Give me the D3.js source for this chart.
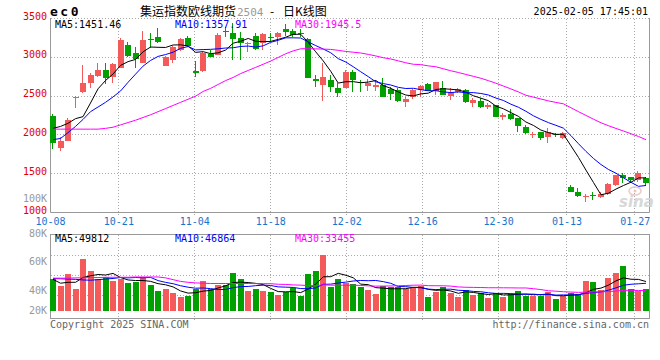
<!DOCTYPE html>
<html>
<head>
<meta charset="utf-8">
<script src="https://cdn.jsdelivr.net/npm/d3@7"></script>
<style>
  html, body { margin: 0; padding: 0; background: #fff; }
  svg { display: block; }
  text { font-family: "DejaVu Sans Mono", monospace; font-size: 10px; }
</style>
</head>
<body>
<svg id="chart" width="660" height="360"></svg>
<script>
// daily K data, 2024-10-08 .. 2025-02-05 (80 sessions)
const OPEN = [2245,1837,1927,2483,2557,2665,2759,2837,2750,2858,
  3158,3059,2931,3230,3257,2888,2965,3094,3245,2828,
  2828,3042,3030,3335,3309,3245,3171,3274,3188,3265,
  3265,3360,3338,3315,3232,2720,2643,2708,2601,2601,
  2815,2680,2631,2614,2643,2588,2579,2429,2493,2579,
  2656,2570,2601,2502,2557,2579,2416,2441,2364,2382,
  2236,2270,2215,2107,2005,2035,1978,2012,1958,1335,
  1270,1208,1222,1206,1241,1357,1480,1456,1421,1443];
const HIGH = [2270,1970,2219,2498,2901,2794,2930,2930,2930,3245,
  3201,3129,3342,3309,3373,3017,3145,3245,3274,2956,
  3072,3094,3309,3394,3438,3330,3200,3309,3309,3317,
  3330,3425,3360,3360,3245,2772,2923,2772,2665,2837,
  2837,2708,2721,2708,2730,2614,2601,2485,2588,2643,
  2665,2686,2699,2601,2609,2588,2472,2472,2408,2382,
  2279,2331,2215,2128,2035,2035,2094,2030,2042,1357,
  1318,1240,1270,1270,1378,1485,1515,1463,1540,1456];
const LOW = [1816,1794,1923,2344,2544,2600,2743,2652,2673,2858,
  3008,2858,2931,3116,3188,2888,2930,3085,3137,2743,
  2815,3000,3030,3257,2965,2965,3072,3094,3094,3201,
  3158,3274,3265,3265,2730,2622,2440,2557,2493,2601,
  2557,2557,2570,2570,2485,2450,2429,2364,2463,2485,
  2566,2515,2515,2450,2537,2408,2364,2344,2331,2228,
  2193,2193,2042,2009,1965,1936,1893,1980,1945,1270,
  1202,1142,1163,1185,1228,1348,1378,1378,1399,1344];
const CLOSE = [1893,1927,2193,2493,2673,2772,2837,2730,2914,3223,
  3017,2974,3223,3223,3201,3008,3137,3232,3145,2794,
  3051,3008,3287,3325,3232,3180,3188,3103,3300,3250,
  3309,3330,3287,3305,2730,2700,2743,2622,2544,2815,
  2708,2673,2665,2643,2493,2528,2441,2467,2579,2631,
  2570,2678,2515,2544,2588,2429,2450,2357,2386,2236,
  2257,2202,2120,2022,2012,1958,2042,2005,2030,1270,
  1215,1218,1212,1241,1370,1480,1445,1425,1515,1380];

const MA5 = [2085,2110,2150,2210,2236,2412,2594,2701,2785,2895,
  2944,2972,3070,3132,3128,3126,3158,3160,3145,3063,
  3072,3046,3057,3093,3181,3206,3242,3206,3201,3204,
  3230,3258,3295,3296,3192,3070,2953,2820,2668,2685,
  2686,2672,2681,2701,2636,2600,2554,2514,2502,2529,
  2538,2585,2595,2588,2579,2551,2505,2474,2442,2372,
  2337,2288,2240,2167,2123,2063,2031,2008,2009,1861,
  1712,1548,1389,1231,1251,1304,1350,1392,1447,1449];
const MA10 = [1940,1955,2030,2110,2200,2300,2360,2420,2490,2566,
  2678,2783,2886,2959,3011,3035,3065,3115,3138,3095,
  3099,3102,3109,3119,3122,3139,3144,3131,3147,3192,
  3218,3250,3250,3248,3198,3150,3106,3058,2982,2939,
  2878,2813,2751,2684,2661,2643,2613,2598,2601,2583,
  2569,2570,2555,2545,2554,2544,2545,2534,2515,2475,
  2444,2396,2357,2305,2247,2200,2159,2124,2088,1992,
  1888,1789,1698,1620,1556,1508,1449,1391,1339,1350];
const MA30 = [2075,2075,2075,2075,2075,2075,2075,2085,2100,2130,
  2160,2190,2225,2260,2300,2340,2380,2420,2460,2500,
  2560,2600,2650,2700,2740,2790,2830,2870,2910,2951,
  2998,3045,3082,3109,3111,3108,3105,3101,3089,3075,
  3065,3055,3037,3017,2994,2978,2954,2929,2910,2905,
  2889,2878,2852,2826,2804,2779,2755,2730,2699,2666,
  2630,2593,2554,2511,2487,2463,2439,2419,2401,2350,
  2300,2252,2203,2157,2119,2084,2051,2016,1981,1939];

// volume in thousand lots
const VOLUME = [53.5,42.2,62.5,37.2,87.8,67.6,53.5,57.9,50.7,53.5,
  46.8,48.5,57.9,43.9,33.8,37.2,30.9,23.7,25.3,37.2,
  50.7,37.2,43.9,43.9,64.7,54.1,33.8,37.2,33.8,32.1,
  27.0,32.1,38.9,25.3,62.5,67.6,94.6,40.0,53.5,46.8,
  45.6,41.0,35.5,28.7,42.2,40.0,41.0,36.7,40.0,42.2,
  23.1,32.6,40.0,30.9,23.1,35.5,27.0,30.9,22.5,30.9,
  24.2,28.7,33.8,25.8,25.3,25.3,32.6,20.3,25.3,29.9,
  28.7,50.7,48.5,35.5,55.2,64.7,76.0,37.2,33.8,37.2];
const VMA5 = [53.5,47.0,48.5,48.5,56.6,59.5,61.7,60.8,63.5,56.6,
  52.5,51.5,51.5,50.1,46.2,44.3,40.7,33.9,30.2,30.9,
  33.6,34.8,38.9,42.6,48.1,48.8,48.1,46.7,44.7,38.2,
  32.8,32.4,32.8,31.1,37.2,45.3,57.8,58.0,63.6,60.5,
  56.1,45.4,44.5,39.5,38.6,37.5,37.5,37.7,40.0,40.0,
  36.6,34.9,35.6,33.8,29.9,32.4,31.3,29.5,27.8,29.4,
  27.1,27.4,28.0,28.7,27.6,27.8,28.6,25.9,25.8,26.7,
  27.4,31.0,36.6,38.7,43.7,50.9,56.0,53.7,53.4,49.8];
const VMA10 = [55.0,54.5,54.0,53.5,52.5,52.0,53.0,54.0,55.0,56.6,
  56.0,56.6,56.1,56.8,51.4,48.4,46.1,42.7,40.2,38.5,
  38.9,37.8,36.4,36.4,39.5,41.2,41.5,42.8,43.7,43.1,
  40.8,40.3,39.8,37.9,37.7,39.0,45.1,45.4,47.4,48.8,
  50.7,51.6,51.2,51.6,49.6,46.8,41.4,41.1,39.8,39.3,
  37.0,36.2,36.7,36.9,35.0,34.5,33.1,32.5,30.8,29.7,
  29.8,29.4,28.8,28.2,28.5,27.4,28.0,26.9,27.2,27.1,
  27.6,29.8,31.2,32.2,35.2,39.1,43.5,45.2,46.0,46.8];
const VMA30 = [55.5,55.5,55.5,56.0,56.0,56.5,56.5,57.0,57.0,57.0,
  57.0,57.5,57.5,57.5,57.5,56.0,53.0,50.0,48.5,47.5,
  47.0,46.5,46.5,46.5,46.5,46.5,46.5,46.3,46.2,46.1,
  45.2,44.9,44.1,43.7,42.9,42.9,44.2,43.6,43.7,43.5,
  43.5,43.2,42.5,42.0,42.2,42.3,42.7,43.1,43.6,43.8,
  42.8,42.7,42.6,42.1,40.7,40.1,39.9,39.7,39.3,39.3,
  39.2,39.1,38.9,38.9,37.7,36.2,34.2,33.5,32.6,32.0,
  31.5,31.8,32.2,32.4,32.9,33.7,34.9,34.9,34.7,34.5];

const PRICE_TICKS = [1000, 1500, 2000, 2500, 3000, 3500];
const VOLUME_TICKS = [20, 40, 60, 80, 100];
const DATE_TICKS = [0, 9, 19, 29, 39, 49, 59, 68, 77];
const DATE_LABELS = ['10-08','10-21','11-04','11-18','12-02','12-16','12-30','01-13','01-27'];
const PRICE_LEGEND = ['MA5:1451.46', 'MA10:1357.91', 'MA30:1945.5'];
const VOLUME_LEGEND = ['MA5:49812', 'MA10:46864', 'MA30:33455'];

const UP = '#f45a5a', DOWN = '#00a000';
const MA_COLORS = ['#000000', '#0000ff', '#ff00ff'];
const GRID = '#aaa', BORDER = '#999';

class KLineChart {
    constructor(selector) {
        this.$svg = d3.select(selector);
        this._setScales();
    }

    _setScales() {
        this.x = d3.scaleBand().domain(d3.range(CLOSE.length)).range([50, 649]).paddingInner(0.2);
        this.dateX = d3.scaleLinear().domain([0, CLOSE.length - 1]).range([50, 650]);
        this.y = d3.scaleLinear().domain([1000, 3500]).range([212.7, 18.4]);
        this.vy = d3.scaleLinear().domain([0, 120]).range([311, 240]);
        // sina puts the volume labels unevenly
        this.vLabel = d3.scaleLinear().domain(VOLUME_TICKS).range([310.7, 290.7, 261.7, 233.7, 198.3]);
    }

    render() {
        this._renderHeader();
        this._renderGrid();
        this._renderCandles();
        this._renderVolume();
        this._renderLines();
        this._renderAxes();
        this._renderLegends();
        this._renderFooter();
    }

    _renderHeader() {
        const svg = this.$svg;
        svg.append('text').attr('x', 50).attr('y', 16)
            .style('font-size', '13px').style('font-weight', 'bold').style('letter-spacing', '2.5px')
            .text('ec0');

        const title = svg.append('text').attr('y', 15.5)
            .style('font-family', '"Noto Sans CJK SC", sans-serif').style('font-size', '12px');
        title.append('tspan').attr('x', 140).text('集运指数欧线期货');
        title.append('tspan').attr('x', 237).attr('fill', '#999')
            .style('font-family', '"DejaVu Sans Mono", monospace').style('font-size', '11px').text('2504');
        title.append('tspan').attr('x', 270).text('-');
        title.append('tspan').attr('x', 283).text('日K线图');

        svg.append('text').attr('x', 648).attr('y', 15).attr('text-anchor', 'end')
            .text('2025-02-05 17:45:01');
    }

    _renderGrid() {
        const g = this.$svg.append('g').attr('class', 'grid')
            .attr('stroke', GRID).attr('stroke-dasharray', '1,2').attr('fill', 'none');
        const px = v => Math.floor(v) + 0.5;

        g.selectAll('.hgrid')
            .data(PRICE_TICKS.slice(1))
            .enter().append('line')
            .attr('x1', 51).attr('x2', 649)
            .attr('y1', d => px(this.y(d))).attr('y2', d => px(this.y(d)));

        g.selectAll('.vgrid')
            .data(DATE_TICKS.slice(1))
            .enter().append('line')
            .attr('x1', d => px(this.dateX(d))).attr('x2', d => px(this.dateX(d)))
            .attr('y1', 19).attr('y2', 217);

        g.selectAll('.vgrid2')
            .data(DATE_TICKS.slice(1))
            .enter().append('line')
            .attr('x1', d => px(this.dateX(d))).attr('x2', d => px(this.dateX(d)))
            .attr('y1', 235).attr('y2', 321);

        g.selectAll('.vhgrid')
            .data([255.5, 275.5, 295.5])
            .enter().append('line')
            .attr('x1', 51).attr('x2', 649)
            .attr('y1', d => d).attr('y2', d => d);

        const b = this.$svg.append('g').attr('stroke', BORDER).attr('fill', 'none');
        b.append('path').attr('d', 'M50.5,18V212.5H649.5V18');
        b.append('rect').attr('x', 50.5).attr('y', 234.5).attr('width', 599).attr('height', 84);
    }

    _renderCandles() {
        const w = 6;
        const g = this.$svg.append('g').attr('class', 'candles');
        const candle = g.selectAll('g')
            .data(CLOSE.map((c, i) => ({i, o: OPEN[i], h: HIGH[i], l: LOW[i], c})))
            .enter().append('g')
            .attr('fill', d => d.c >= d.o ? UP : DOWN)
            .attr('stroke', d => d.c >= d.o ? UP : DOWN);

        candle.append('line')
            .attr('x1', d => Math.round(this.x(d.i)) + 2.5)
            .attr('x2', d => Math.round(this.x(d.i)) + 2.5)
            .attr('y1', d => Math.round(this.y(d.h)))
            .attr('y2', d => Math.round(this.y(d.l)));

        candle.append('rect')
            .attr('stroke', 'none')
            .attr('x', d => Math.round(this.x(d.i)))
            .attr('y', d => Math.round(this.y(Math.max(d.o, d.c))))
            .attr('width', w)
            .attr('height', d => Math.max(1, Math.round(this.y(Math.min(d.o, d.c))) - Math.round(this.y(Math.max(d.o, d.c)))));
    }

    _renderVolume() {
        this.$svg.append('g').attr('class', 'volume')
            .selectAll('rect')
            .data(VOLUME)
            .enter().append('rect')
            .attr('x', (d, i) => Math.round(this.x(i)))
            .attr('y', d => Math.round(this.vy(d)))
            .attr('width', 6)
            .attr('height', d => Math.round(this.vy(0)) - Math.round(this.vy(d)))
            .attr('fill', (d, i) => CLOSE[i] >= OPEN[i] ? UP : DOWN);
    }

    _renderLines() {
        const cx = i => this.x(i) + 3;
        const priceLine = d3.line().x((d, i) => cx(i)).y(d => this.y(d));
        const volLine = d3.line().x((d, i) => cx(i)).y(d => this.vy(d));

        [MA5, MA10, MA30].forEach((data, k) => {
            this.$svg.append('path')
                .attr('d', priceLine(data))
                .attr('fill', 'none').attr('stroke', MA_COLORS[k]).attr('stroke-width', 1);
        });
        [VMA5, VMA10, VMA30].forEach((data, k) => {
            this.$svg.append('path')
                .attr('d', volLine(data))
                .attr('fill', 'none').attr('stroke', MA_COLORS[k]).attr('stroke-width', 1);
        });
    }

    _renderAxes() {
        const yAxis = d3.axisLeft(this.y).tickValues(PRICE_TICKS).tickSize(0).tickPadding(0)
            .tickFormat(d3.format('d'));
        this.$svg.append('g')
            .attr('transform', 'translate(47,-2.5)')
            .call(yAxis)
            .call(g => g.select('.domain').remove())
            .selectAll('text')
            .attr('fill', '#e00000')
            .style('font-family', '"DejaVu Sans Mono", monospace').style('font-size', '10px');

        const vAxis = d3.axisLeft(this.vLabel).tickValues(VOLUME_TICKS).tickSize(0).tickPadding(0)
            .tickFormat(d => d + 'K');
        this.$svg.append('g')
            .attr('transform', 'translate(47,0)')
            .call(vAxis)
            .call(g => g.select('.domain').remove())
            .selectAll('text')
            .attr('fill', '#999')
            .style('font-family', '"DejaVu Sans Mono", monospace').style('font-size', '10px');

        const xAxis = d3.axisBottom(this.dateX).tickValues(DATE_TICKS).tickSize(0).tickPadding(2)
            .tickFormat((d, i) => DATE_LABELS[i]);
        this.$svg.append('g')
            .attr('transform', 'translate(0,216)')
            .call(xAxis)
            .call(g => g.select('.domain').remove())
            .selectAll('text')
            .attr('fill', '#1874cd')
            .style('font-family', '"DejaVu Sans Mono", monospace').style('font-size', '10px');
    }

    _renderLegends() {
        const xs = [55, 175, 295];
        const g = this.$svg.append('g').attr('class', 'legend');
        g.selectAll('.pl').data(PRICE_LEGEND).enter().append('text')
            .attr('x', (d, i) => xs[i]).attr('y', 27.5)
            .attr('fill', (d, i) => MA_COLORS[i]).text(d => d);
        g.selectAll('.vl').data(VOLUME_LEGEND).enter().append('text')
            .attr('x', (d, i) => xs[i]).attr('y', 242)
            .attr('fill', (d, i) => MA_COLORS[i]).text(d => d);
    }

    _renderFooter() {
        const svg = this.$svg;
        svg.append('text').attr('x', 50).attr('y', 328).attr('fill', '#666')
            .text('Copyright 2025 SINA.COM');
        svg.append('text').attr('x', 649).attr('y', 328).attr('fill', '#666').attr('text-anchor', 'end')
            .text('http://finance.sina.com.cn');

        // faint sina watermark
        const wm = svg.append('g').attr('opacity', 0.9);
        wm.append('ellipse').attr('cx', 635).attr('cy', 191).attr('rx', 6).attr('ry', 4)
            .attr('fill', 'none').attr('stroke', '#e8c4c4').attr('stroke-width', 1.5);
        wm.append('circle').attr('cx', 635).attr('cy', 191).attr('r', 1.5).attr('fill', '#e8c4c4');
        wm.append('text').attr('x', 619).attr('y', 207)
            .style('font-family', '"DejaVu Sans", sans-serif').style('font-size', '15px')
            .style('font-weight', 'bold').style('font-style', 'italic')
            .attr('fill', '#d4d4d4').text('sina');
    }
}

new KLineChart('#chart').render();
</script>
</body>
</html>
